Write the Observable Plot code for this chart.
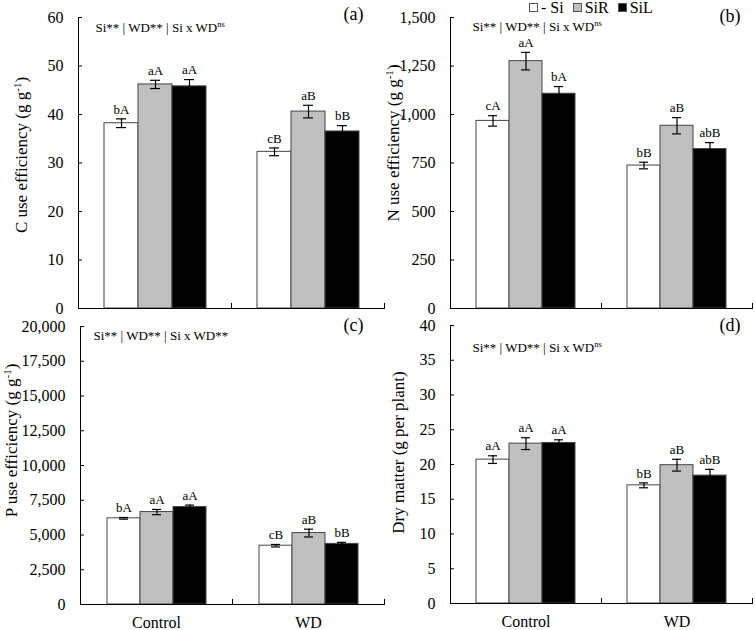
<!DOCTYPE html>
<html>
<head>
<meta charset="utf-8">
<script src="https://cdn.jsdelivr.net/npm/d3@7"></script>
<script src="https://cdn.jsdelivr.net/npm/@observablehq/plot@0.6"></script>
<style>
  html, body { margin: 0; padding: 0; background: #fff; }
  #wrap { position: relative; width: 755px; height: 630px; background: #fff; overflow: hidden;
          font-family: "Liberation Serif", "Times New Roman", Times, "DejaVu Serif", serif; }
  .panel { position: absolute; }
  #legend { position: absolute; left: 529px; top: -1px; font-size: 16px; line-height: 18px; white-space: nowrap; color: #000;
            font-family: "Liberation Serif", "Times New Roman", Times, "DejaVu Serif", serif; }
  #legend .sw { display: inline-block; width: 7px; height: 7px; border: 1px solid #555; vertical-align: 1px; margin-right: 3px; }
  #legend .item { margin-right: 9px; }
  svg text { font-family: "Liberation Serif", "Times New Roman", Times, "DejaVu Serif", serif; }
</style>
</head>
<body>
<div id="wrap">
  <div id="legend"></div>
</div>
<script>
// ---------- data ----------
const treatments = ["Control", "WD"];
const series = ["- Si", "SiR", "SiL"];
const seriesFill = ["#ffffff", "#bfbfbf", "#000000"];

// (a) C use efficiency
const cueValues  = [38.2, 46.2, 45.8, 32.3, 40.6, 36.5];
const cueErrors  = [0.9, 0.85, 1.4, 0.8, 1.3, 1.2];
const cueLetters = ["bA", "aA", "aA", "cB", "aB", "bB"];
const cueTicks   = [0, 10, 20, 30, 40, 50, 60];

// (b) N use efficiency
const nueValues  = [967, 1275, 1107, 737, 942, 822];
const nueErrors  = [27, 45, 37, 17, 42, 33];
const nueLetters = ["cA", "aA", "bA", "bB", "aB", "abB"];
const nueTicks   = [0, 250, 500, 750, 1000, 1250, 1500];

// (c) P use efficiency
const pueValues  = [6200, 6650, 7010, 4230, 5140, 4360];
const pueErrors  = [60, 190, 140, 90, 280, 110];
const pueLetters = ["bA", "aA", "aA", "cB", "aB", "bB"];
const pueTicks   = [0, 2500, 5000, 7500, 10000, 12500, 15000, 17500, 20000];

// (d) Dry matter
const dmValues  = [20.7, 23.0, 23.1, 17.0, 19.9, 18.4];
const dmErrors  = [0.55, 0.85, 0.45, 0.35, 0.85, 0.9];
const dmLetters = ["aA", "aA", "aA", "bB", "aB", "abB"];
const dmTicks   = [0, 5, 10, 15, 20, 25, 30, 35, 40];

const yTitles = ["C use efficiency (g g^-1^)", "N use efficiency (g g^-1^)", "P use efficiency (g g^-1^)", "Dry matter (g per plant)"];
const notes = ["Si** | WD** | Si x WD^ns", "Si** | WD** | Si x WD^ns", "Si** | WD** | Si x WD**", "Si** | WD** | Si x WD^ns"];
const tags = ["(a)", "(b)", "(c)", "(d)"];

// ---------- helpers ----------
const FONT = '"Liberation Serif", "Times New Roman", Times, "DejaVu Serif", serif';

function rowsOf(values, errors, letters) {
  return treatments.flatMap((t, i) => series.map((s, j) => ({
    treat: t, series: s, v: values[i * 3 + j], e: errors[i * 3 + j], lab: letters[i * 3 + j]
  })));
}

function supify(svg) {
  svg.querySelectorAll("text").forEach(t => {
    const s = t.textContent;
    if (!s.includes("^")) return;
    const parts = s.split("^");
    while (t.firstChild) t.removeChild(t.firstChild);
    parts.forEach((p, i) => {
      if (!p) return;
      const ts = document.createElementNS("http://www.w3.org/2000/svg", "tspan");
      ts.textContent = p;
      if (i % 2 === 1) {
        ts.setAttribute("baseline-shift", "super");
        ts.setAttribute("font-size", "65%");
      }
      t.appendChild(ts);
    });
  });
}

function panel(cfg) {
  const rows = rowsOf(cfg.values, cfg.errors, cfg.letters);
  const fh = cfg.h - cfg.m[0] - cfg.m[2];
  const svg = Plot.plot({
    width: cfg.w, height: cfg.h,
    marginTop: cfg.m[0], marginRight: cfg.m[1], marginBottom: cfg.m[2], marginLeft: cfg.m[3],
    style: { fontFamily: FONT, fontSize: "16px", background: "transparent", color: "#000", overflow: "visible" },
    fx: { domain: treatments, padding: 0, axis: null, label: null },
    x: { domain: series, paddingInner: 0, paddingOuter: 0.75, axis: null },
    y: { domain: [0, cfg.ticks[cfg.ticks.length - 1]], axis: null },
    color: { domain: series, range: seriesFill },
    marks: [
      Plot.barY(rows, { fx: "treat", x: "series", y: "v", fill: "series", stroke: "#454545", strokeWidth: 1 }),
      Plot.ruleX(rows, { fx: "treat", x: "series", y1: d => d.v - d.e, y2: d => d.v + d.e, stroke: "#000", strokeWidth: 1.2 }),
      Plot.tickY(rows, { fx: "treat", x: "series", y: d => d.v + d.e, insetLeft: 12, insetRight: 12, stroke: "#000", strokeWidth: 1.2 }),
      Plot.tickY(rows, { fx: "treat", x: "series", y: d => d.v - d.e, insetLeft: 12, insetRight: 12, stroke: "#000", strokeWidth: 1.2 }),
      Plot.text(rows, { fx: "treat", x: "series", y: d => d.v + d.e, text: "lab", dy: -9.5, fontSize: 13, lineAnchor: "middle", fill: "#000" }),
      Plot.ruleY([0], { stroke: "#000", strokeWidth: 1 }),
      Plot.frame({ anchor: "left", facetAnchor: "left", stroke: "#000", strokeWidth: 1 }),
      Plot.frame({ anchor: "right", insetTop: fh - 5, stroke: "#000", strokeWidth: 1 }),
      Plot.axisY({ ticks: cfg.ticks, tickFormat: cfg.fmt, tickSize: -4, tickPadding: 19, fontSize: 16, label: null, stroke: "#000" }),
      Plot.text([{ treat: "Control" }], { fx: "treat", frameAnchor: "left", text: () => cfg.title, rotate: -90,
        textAnchor: "middle", lineAnchor: "middle", dx: cfg.titleD[0], dy: cfg.titleD[1], fontSize: 17, fill: "#000" }),
      Plot.text([{ treat: "Control" }], { fx: "treat", frameAnchor: "top-left", text: () => cfg.note,
        textAnchor: "start", lineAnchor: "middle", dx: cfg.noteD[0], dy: cfg.noteD[1], fontSize: 13, fill: "#000" }),
      Plot.text([{ treat: "WD" }], { fx: "treat", frameAnchor: "top-right", text: () => cfg.tag,
        textAnchor: "end", lineAnchor: "middle", dx: cfg.tagD[0], dy: cfg.tagD[1], fontSize: 18, fill: "#000" }),
      cfg.bottom ? Plot.axisFx({ anchor: "bottom", tickSize: 0, tickPadding: 12.5, fontSize: 16, label: null }) : null
    ]
  });
  supify(svg);
  const div = document.createElement("div");
  div.className = "panel";
  div.style.left = cfg.left + "px";
  div.style.top = cfg.top + "px";
  div.appendChild(svg);
  document.getElementById("wrap").appendChild(div);
}

const plain = d3.format("d");
const comma = d3.format(",");

panel({ values: cueValues, errors: cueErrors, letters: cueLetters, ticks: cueTicks, fmt: plain,
  title: yTitles[0], note: notes[0], tag: tags[0], left: 0, top: 0, w: 385, h: 315, m: [17, 1, 7, 78],
  titleD: [-57, -8], noteD: [17, 10], tagD: [-21, -3], bottom: false });
panel({ values: nueValues, errors: nueErrors, letters: nueLetters, ticks: nueTicks, fmt: comma,
  title: yTitles[1], note: notes[1], tag: tags[1], left: 385, top: 0, w: 370, h: 315, m: [17, 3, 7, 65],
  titleD: [-57, -20], noteD: [22, 9], tagD: [-12, -1], bottom: false });
panel({ values: pueValues, errors: pueErrors, letters: pueLetters, ticks: pueTicks, fmt: comma,
  title: yTitles[2], note: notes[2], tag: tags[2], left: 0, top: 315, w: 385, h: 315, m: [11, 1, 26, 79],
  titleD: [-69, -25], noteD: [13, 9], tagD: [-21, -1], bottom: true });
panel({ values: dmValues, errors: dmErrors, letters: dmLetters, ticks: dmTicks, fmt: plain,
  title: yTitles[3], note: notes[3], tag: tags[3], left: 385, top: 315, w: 370, h: 315, m: [10, 3, 27, 65],
  titleD: [-52, -12], noteD: [22, 22.5], tagD: [-12, 0], bottom: true });

// legend
const legend = document.getElementById("legend");
series.forEach((s, i) => {
  const item = document.createElement("span");
  item.className = "item";
  const sw = document.createElement("span");
  sw.className = "sw";
  sw.style.background = seriesFill[i];
  item.appendChild(sw);
  item.appendChild(document.createTextNode(s));
  legend.appendChild(item);
});
</script>
</body>
</html>
